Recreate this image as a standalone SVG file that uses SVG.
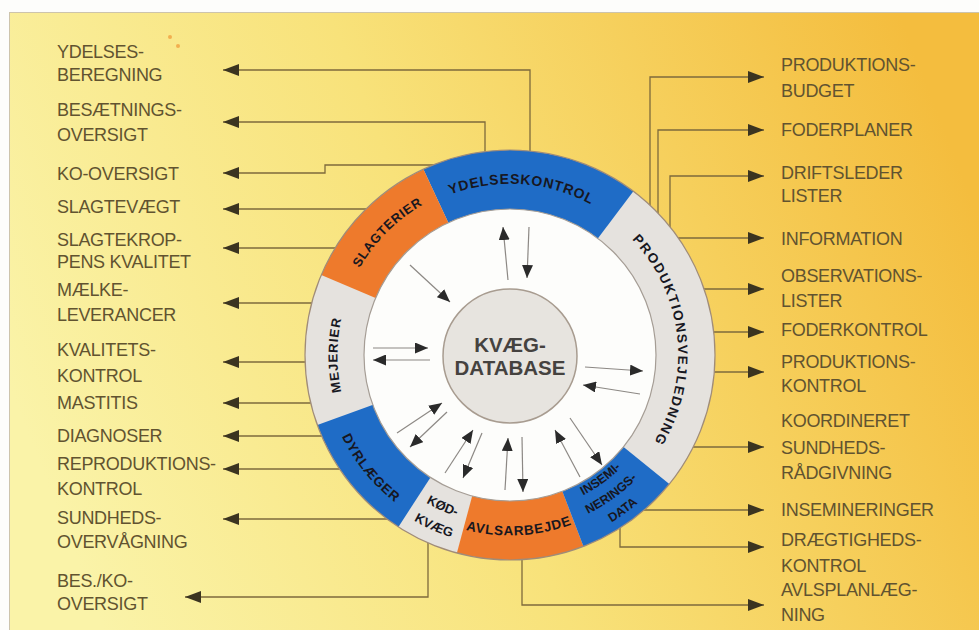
<svg xmlns="http://www.w3.org/2000/svg" width="979" height="630" viewBox="0 0 979 630">
<defs>
  <linearGradient id="bg" x1="0" y1="0.6" x2="1" y2="0.35">
    <stop offset="0" stop-color="#faf3a8"/>
    <stop offset="0.45" stop-color="#f8e27a"/>
    <stop offset="1" stop-color="#f4bd3e"/>
  </linearGradient>
  <marker id="ah" viewBox="0 0 16 12" refX="16" refY="6" markerWidth="16" markerHeight="12" markerUnits="userSpaceOnUse" orient="auto">
    <path d="M0,0 L16,6 L0,12 Z" fill="#3b3420"/>
  </marker>
  <marker id="ai" viewBox="0 0 13 11" refX="13" refY="5.5" markerWidth="13" markerHeight="11" markerUnits="userSpaceOnUse" orient="auto">
    <path d="M0,0 L13,5.5 L0,11 Z" fill="#2a2a2a"/>
  </marker>
  <path id="pYdel" d="M341.1,328.3 A171,171 0 0 1 681.0,352.0"/>
  <path id="pSlag" d="M376.7,466.8 A174,174 0 0 1 621.8,221.7"/>
  <path id="pMej" d="M494.9,527.3 A173,173 0 0 1 494.9,182.7"/>
  <path id="pProd" d="M507.1,187.0 A168,168 0 0 1 542.1,519.9"/>
  <path id="pDyr" d="M380.1,220.5 A187,187 0 0 0 614.6,510.0"/>
  <path id="pKod1" d="M349.3,299.6 A170,170 0 0 0 658.7,437.4"/>
  <path id="pKod2" d="M329.4,292.7 A191,191 0 0 0 677.1,447.6"/>
  <path id="pAvl" d="M331.7,380.1 A180,180 0 0 0 689.9,361.3"/>
  <path id="pIns1" d="M390.7,458.7 A158,158 0 0 0 645.4,273.6"/>
  <path id="pIns2" d="M376.4,471.1 A177,177 0 0 0 661.7,263.8"/>
  <path id="pIns3" d="M362.1,483.6 A196,196 0 0 0 678.0,254.1"/>
</defs>
<style>
  .lbl{font-family:"Liberation Sans",Arial,sans-serif;font-size:18px;fill:#615330;letter-spacing:-0.3px}
  .conn{fill:none;stroke:#7d6a3c;stroke-width:1.3;marker-end:url(#ah)}
  .inner{fill:none;stroke:#8c8884;stroke-width:1.2;marker-end:url(#ai)}
  .seg{font-family:"Liberation Sans",Arial,sans-serif;font-weight:bold;fill:#17171f}
  .blue{fill:#1f6cc6}
  .orange{fill:#ee7a2c}
</style>

<rect x="0" y="0" width="979" height="630" fill="#fdfdfb"/>
<rect x="9.5" y="12.5" width="975" height="625" fill="url(#bg)" stroke="#cdc4ac" stroke-width="1"/>
<circle cx="170" cy="37" r="2" fill="#f0a040" opacity="0.8"/>
<circle cx="178" cy="46" r="2" fill="#f0a040" opacity="0.8"/>

<g id="connectors">
  <path class="conn" d="M530,165 V70 H223"/>
  <path class="conn" d="M485,165 V122 H223"/>
  <path class="conn" d="M440,165 H325 V173 H223"/>
  <path class="conn" d="M375,209 H223"/>
  <path class="conn" d="M345,248 H223"/>
  <path class="conn" d="M320,303 H223"/>
  <path class="conn" d="M315,362 H223"/>
  <path class="conn" d="M320,403 H223"/>
  <path class="conn" d="M330,436 H223"/>
  <path class="conn" d="M350,469 H223"/>
  <path class="conn" d="M395,519 H223"/>
  <path class="conn" d="M428,535 V597 H185"/>
  <path class="conn" d="M650,215 V77 H764"/>
  <path class="conn" d="M658,222 V130 H764"/>
  <path class="conn" d="M670,236 V176 H764"/>
  <path class="conn" d="M670,238 H764"/>
  <path class="conn" d="M695,289 H764"/>
  <path class="conn" d="M705,332 H764"/>
  <path class="conn" d="M705,372 H764"/>
  <path class="conn" d="M680,447 H764"/>
  <path class="conn" d="M640,510 H764"/>
  <path class="conn" d="M620,520 V547 H764"/>
  <path class="conn" d="M522,550 V605 H764"/>
</g>

<g id="ring">
  <circle cx="510" cy="355" r="205" fill="#e5e2de"/>
  <g id="ydelseskontrol">
    <path class="blue" d="M510,355 L633.4,191.3 A205,205 0 0 0 423.4,169.2 Z"/>
    <text class="seg" font-size="14" letter-spacing="0.8"><textPath href="#pYdel" startOffset="50%" text-anchor="middle">YDELSESKONTROL</textPath></text>
  </g>
  <g id="slagterier">
    <path class="orange" d="M510,355 L423.4,169.2 A205,205 0 0 0 321.3,274.9 Z"/>
    <text class="seg" font-size="13" letter-spacing="0.7"><textPath href="#pSlag" startOffset="50%" text-anchor="middle">SLAGTERIER</textPath></text>
  </g>
  <g id="mejerier">
    <text class="seg" font-size="13" letter-spacing="1" fill="#333"><textPath href="#pMej" startOffset="50%" text-anchor="middle">MEJERIER</textPath></text>
  </g>
  <g id="dyrlaeger">
    <path class="blue" d="M510,355 L317.4,425.1 A205,205 0 0 0 398.4,526.9 Z"/>
    <text class="seg" font-size="13.5" letter-spacing="0.8"><textPath href="#pDyr" startOffset="50%" text-anchor="middle">DYRLÆGER</textPath></text>
  </g>
  <g id="koedkvaeg">
    <text class="seg" font-size="13" fill="#333"><textPath href="#pKod1" startOffset="50%" text-anchor="middle">KØD-</textPath></text>
    <text class="seg" font-size="13" fill="#333"><textPath href="#pKod2" startOffset="50%" text-anchor="middle">KVÆG</textPath></text>
  </g>
  <g id="avlsarbejde">
    <path class="orange" d="M510,355 L456.9,553.0 A205,205 0 0 0 583.5,546.4 Z"/>
    <text class="seg" font-size="13.5" letter-spacing="0.8"><textPath href="#pAvl" startOffset="50%" text-anchor="middle">AVLSARBEJDE</textPath></text>
  </g>
  <g id="inseminering">
    <path class="blue" d="M510,355 L583.5,546.4 A205,205 0 0 0 669.3,484.0 Z"/>
    <text class="seg" font-size="12.5"><textPath href="#pIns1" startOffset="50%" text-anchor="middle">INSEMI-</textPath></text>
    <text class="seg" font-size="12.5"><textPath href="#pIns2" startOffset="50%" text-anchor="middle">NERINGS-</textPath></text>
    <text class="seg" font-size="12.5"><textPath href="#pIns3" startOffset="50%" text-anchor="middle">DATA</textPath></text>
  </g>
  <g id="produktionsvejledning">
    <text class="seg" font-size="13.5" letter-spacing="1.6" fill="#333"><textPath href="#pProd" startOffset="50%" text-anchor="middle">PRODUKTIONSVEJLEDNING</textPath></text>
  </g>
  <circle cx="510" cy="355" r="205" fill="none" stroke="#a08c78" stroke-width="1.2"/>
  <circle cx="510" cy="355" r="146" fill="#fdfdfb" stroke="#a59d95" stroke-width="1.2"/>
</g>

<g id="kvaeg-database">
  <circle cx="510" cy="356" r="67" fill="#e7e4df" stroke="#a89c90" stroke-width="1.5"/>
  <text x="510" y="352" text-anchor="middle" font-family="Liberation Sans, Arial, sans-serif" font-weight="bold" font-size="20.5" fill="#45423f">KVÆG-</text>
  <text x="510" y="375" text-anchor="middle" font-family="Liberation Sans, Arial, sans-serif" font-weight="bold" font-size="20.5" fill="#45423f">DATABASE</text>
</g>

<g id="inner-connectors">
  <path class="inner" d="M508,280 L503,227"/>
  <path class="inner" d="M529,227 L527,278"/>
  <path class="inner" d="M410,265 L450,302"/>
  <path class="inner" d="M373,348 L428,348"/>
  <path class="inner" d="M430,360 L373,360"/>
  <path class="inner" d="M397,433 L442,403"/>
  <path class="inner" d="M447,412 L410,447"/>
  <path class="inner" d="M445,473 L473,430"/>
  <path class="inner" d="M482,433 L463,478"/>
  <path class="inner" d="M505,490 L508,438"/>
  <path class="inner" d="M522,437 L523,492"/>
  <path class="inner" d="M580,477 L555,430"/>
  <path class="inner" d="M570,418 L602,465"/>
  <path class="inner" d="M585,367 L643,371"/>
  <path class="inner" d="M640,394 L583,385"/>
</g>

<g id="left-labels">
  <g id="l-ydelsesberegning"><text class="lbl" x="57" y="58">YDELSES-</text><text class="lbl" x="57" y="81">BEREGNING</text></g>
  <g id="l-besaetningsoversigt"><text class="lbl" x="57" y="116">BESÆTNINGS-</text><text class="lbl" x="57" y="141">OVERSIGT</text></g>
  <g id="l-kooversigt"><text class="lbl" x="57" y="180">KO-OVERSIGT</text></g>
  <g id="l-slagtevaegt"><text class="lbl" x="57" y="213">SLAGTEVÆGT</text></g>
  <g id="l-slagtekroppens"><text class="lbl" x="57" y="246">SLAGTEKROP-</text><text class="lbl" x="57" y="268">PENS KVALITET</text></g>
  <g id="l-maelkeleverancer"><text class="lbl" x="57" y="296">MÆLKE-</text><text class="lbl" x="57" y="321">LEVERANCER</text></g>
  <g id="l-kvalitetskontrol"><text class="lbl" x="57" y="356">KVALITETS-</text><text class="lbl" x="57" y="382">KONTROL</text></g>
  <g id="l-mastitis"><text class="lbl" x="57" y="409">MASTITIS</text></g>
  <g id="l-diagnoser"><text class="lbl" x="57" y="442">DIAGNOSER</text></g>
  <g id="l-reproduktionskontrol"><text class="lbl" x="57" y="470">REPRODUKTIONS-</text><text class="lbl" x="57" y="495">KONTROL</text></g>
  <g id="l-sundhedsovervaagning"><text class="lbl" x="57" y="524">SUNDHEDS-</text><text class="lbl" x="57" y="548">OVERVÅGNING</text></g>
  <g id="l-beskooversigt"><text class="lbl" x="57" y="587">BES./KO-</text><text class="lbl" x="57" y="610">OVERSIGT</text></g>
</g>

<g id="right-labels">
  <g id="r-produktionsbudget"><text class="lbl" x="781" y="71">PRODUKTIONS-</text><text class="lbl" x="781" y="97">BUDGET</text></g>
  <g id="r-foderplaner"><text class="lbl" x="781" y="136">FODERPLANER</text></g>
  <g id="r-driftslederlister"><text class="lbl" x="781" y="179">DRIFTSLEDER</text><text class="lbl" x="781" y="202">LISTER</text></g>
  <g id="r-information"><text class="lbl" x="781" y="245">INFORMATION</text></g>
  <g id="r-observationslister"><text class="lbl" x="781" y="282">OBSERVATIONS-</text><text class="lbl" x="781" y="307">LISTER</text></g>
  <g id="r-foderkontrol"><text class="lbl" x="781" y="336">FODERKONTROL</text></g>
  <g id="r-produktionskontrol"><text class="lbl" x="781" y="368">PRODUKTIONS-</text><text class="lbl" x="781" y="392">KONTROL</text></g>
  <g id="r-sundhedsraadgivning"><text class="lbl" x="781" y="427">KOORDINERET</text><text class="lbl" x="781" y="454">SUNDHEDS-</text><text class="lbl" x="781" y="479">RÅDGIVNING</text></g>
  <g id="r-insemineringer"><text class="lbl" x="781" y="516">INSEMINERINGER</text></g>
  <g id="r-draegtighedskontrol"><text class="lbl" x="781" y="546">DRÆGTIGHEDS-</text><text class="lbl" x="781" y="572">KONTROL</text></g>
  <g id="r-avlsplanlaegning"><text class="lbl" x="781" y="596">AVLSPLANLÆG-</text><text class="lbl" x="781" y="621">NING</text></g>
</g>
</svg>
